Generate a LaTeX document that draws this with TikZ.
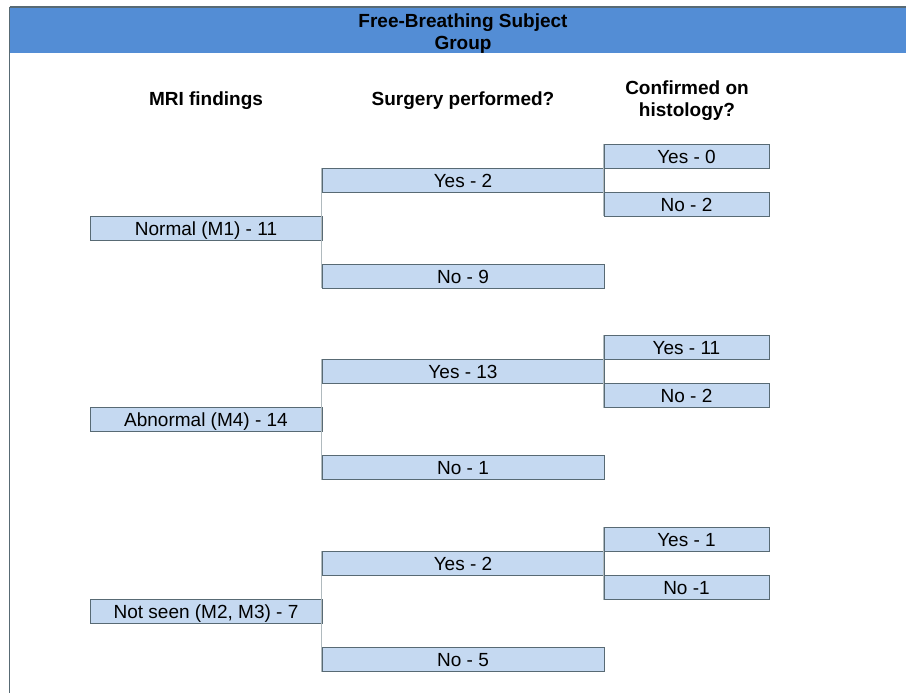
\documentclass[tikz,border=0pt]{standalone}
\usepackage{fontspec}
\setmainfont{Liberation Sans}
\definecolor{headerblue}{RGB}{83, 141, 213}
\definecolor{cellblue}{RGB}{197, 217, 241}
\definecolor{cellline}{RGB}{88, 106, 116}
\definecolor{linkgray}{RGB}{176, 186, 190}
\usepackage{tikz}
\usetikzlibrary{positioning}

\begin{document}
\begin{tikzpicture}[x=1pt, y=-1pt,
    cell/.style={draw=cellline, line width=0.8pt, fill=cellblue, inner sep=0pt,
      minimum height=24pt, text height=16pt, text depth=2pt,
      font=\fontsize{19}{22}\selectfont},
    mricell/.style={cell, minimum width=232pt},
    surgcell/.style={cell, minimum width=282pt},
    histcell/.style={cell, minimum width=165pt},
    colhead/.style={font=\fontsize{19}{22}\selectfont\bfseries, align=center},
    link/.style={linkgray, line width=0.8pt}]
      \useasboundingbox (0,0) rectangle (906,693);
      % Title band
      \fill[headerblue] (10,8) rectangle (906,53);
      \draw[cellline, line width=1.2pt] (9.5,7) -- (906,7);
      \draw[cellline, line width=1.2pt] (9.5,7) -- (9.5,693);
      \node[colhead] (title) at (463,33.5) {Free-Breathing Subject\\Group};
      % Column titles
      \node[colhead] (mrihead) at (206,100.5) {MRI findings};
      \node[colhead] (surghead) at (463,100.5) {Surgery performed?};
      \node[colhead] (histhead) at (687,100.5) {Confirmed on\\histology?};
      % One bracket per MRI group
      \foreach \i/\yy/\mri/\sy/\sn/\hy/\hn in {
          1/0/{Normal (M1) - 11}/{Yes - 2}/{No - 9}/{Yes - 0}/{No - 2},
          2/191.7/{Abnormal (M4) - 14}/{Yes - 13}/{No - 1}/{Yes - 11}/{No - 2},
          3/383.4/{Not seen (M2, M3) - 7}/{Yes - 2}/{No - 5}/{Yes - 1}/{No -1}} {
        \node[mricell] (m\i) at (206,228+\yy) {\mri};
        \node[surgcell] (sy\i) at (463,180+\yy) {\sy};
        \node[surgcell] (sn\i) at (463,276+\yy) {\sn};
        \node[histcell] (hy\i) at (686.5,156+\yy) {\hy};
        \node[histcell] (hn\i) at (686.5,204+\yy) {\hn};
        \draw[link] (sy\i.north west) -- (sn\i.south west);
        \draw[link] (hy\i.north west) -- (hn\i.south west);
      }
    \end{tikzpicture}
\end{document}
